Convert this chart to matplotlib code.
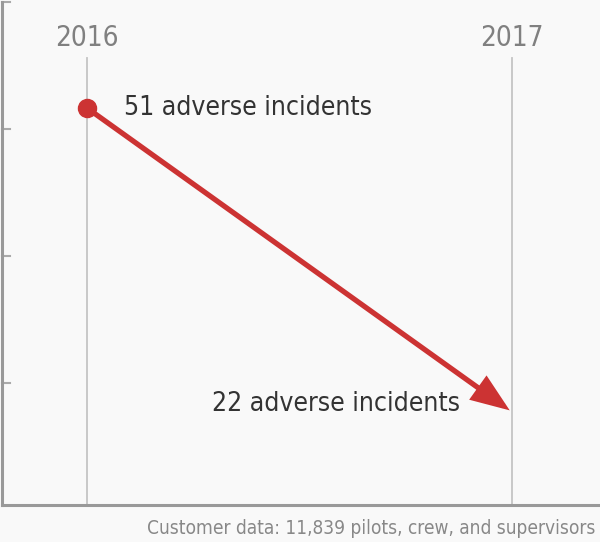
import matplotlib
matplotlib.use("Agg")
import matplotlib.pyplot as plt

years = [2016, 2017]
incidents = [51, 22]
labels = ["51 adverse incidents", "22 adverse incidents"]
footer = "Customer data: 11,839 pilots, crew, and supervisors"

bg = "#f9f9f9"
red = "#cc3333"
fam = "DejaVu Sans"
st = "condensed"

fig = plt.figure(figsize=(6, 5.42), dpi=100, facecolor=bg)
ax = fig.add_axes([2 / 600, 37 / 542, 598 / 600, 503 / 542], facecolor=bg)

# scale so the two points land where they sit in the picture
ax.set_xlim(2016 - 85 / 425, 2017 + 88 / 425)
ax.set_ylim(22 - 93 / 10.483, 51 + 106 / 10.483)

for yr in years:
    ax.axvline(yr, ymin=0, ymax=0.889, color="#c4c4c4", lw=1.3, zorder=1)
    ax.text(yr, 1.0 - 36 / 503, str(yr), transform=ax.get_xaxis_transform(),
            ha="center", va="center", fontsize=20, color="#808080",
            family=fam, stretch=st)

ax.annotate("", xy=(years[1], incidents[1]), xytext=(years[0], incidents[0]),
            arrowprops=dict(arrowstyle="-|>,head_length=1.05,head_width=0.4",
                            mutation_scale=20, color=red, lw=3.8,
                            joinstyle="miter", capstyle="butt",
                            shrinkA=0, shrinkB=2), zorder=3)
ax.plot(years[0], incidents[0], "o", color=red, ms=13, zorder=4)

ax.text(2016 + 37 / 425, incidents[0], labels[0], ha="left", va="center",
        fontsize=19, color="#333333", family=fam, stretch=st)
ax.text(2017 - 52 / 425, incidents[1] + 8 / 10.483, labels[1], ha="right", va="center",
        fontsize=19, color="#333333", family=fam, stretch=st)

for s in ["top", "right"]:
    ax.spines[s].set_visible(False)
for s in ["left", "bottom"]:
    ax.spines[s].set_color("#999999")
    ax.spines[s].set_linewidth(2.2)
ax.set_xticks([])
ax.set_yticks([])

# short marks on the left edge
for f in [0, 0.25, 0.5, 0.75]:
    yy = 1 - f * 508 / 503
    ax.plot([0, 8 / 598], [yy, yy], transform=ax.transAxes,
            color="#aaaaaa", lw=1.5, clip_on=False)

fig.text(595 / 600, 1 - 528 / 542, footer, ha="right", va="center",
         fontsize=13.7, color="#888888", family=fam, stretch=st)

fig.savefig("out.png", dpi=100, facecolor=bg)
